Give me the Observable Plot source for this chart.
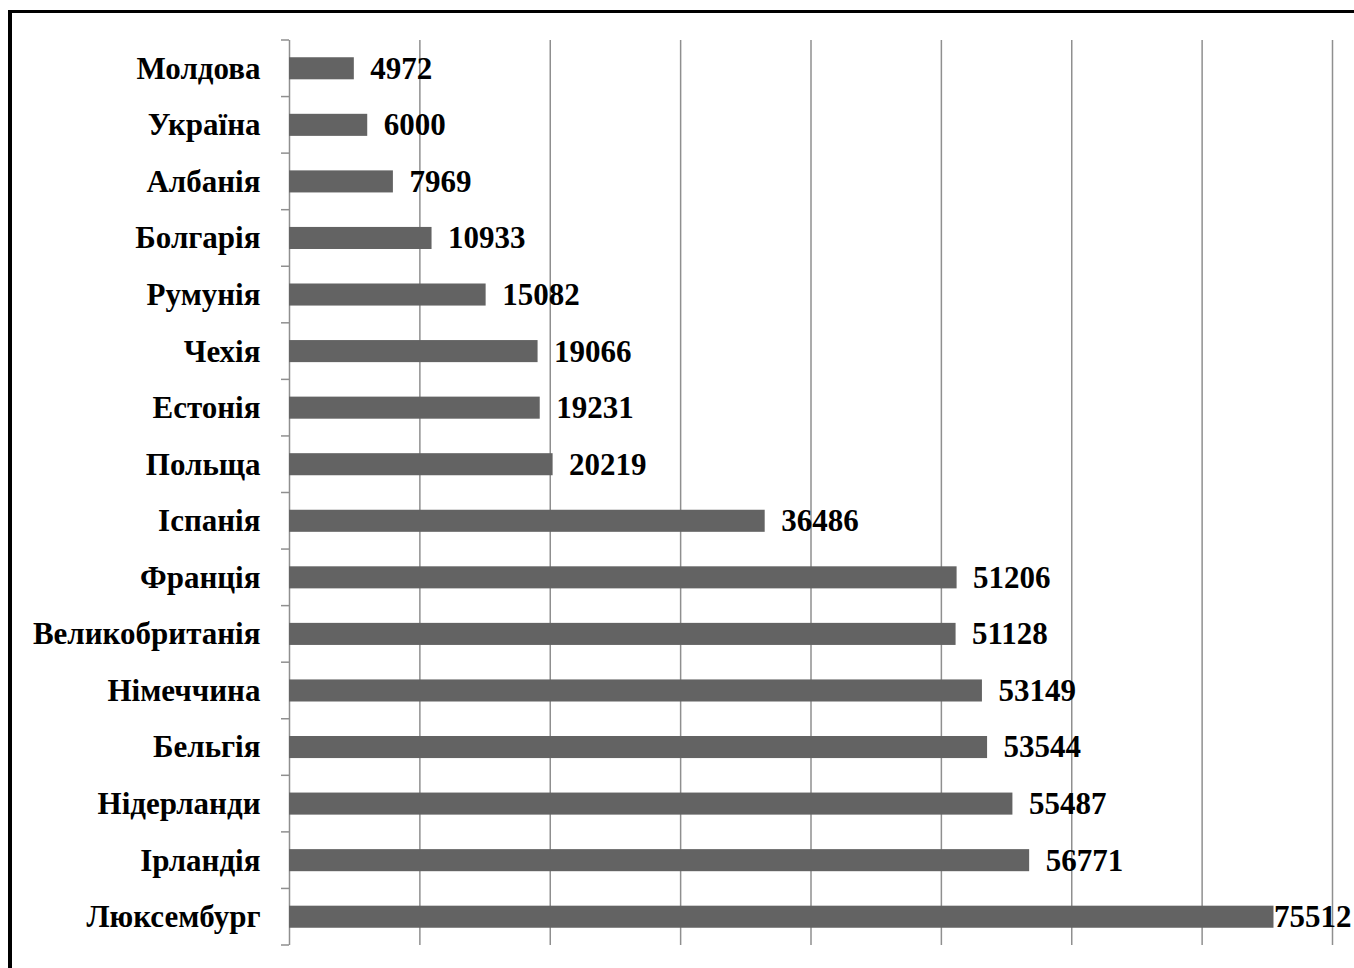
<!DOCTYPE html>
<html>
<head>
<meta charset="utf-8">
<script src="https://cdn.jsdelivr.net/npm/d3@7"></script>
<script src="https://cdn.jsdelivr.net/npm/@observablehq/plot@0.6"></script>
<style>
  html, body { margin: 0; padding: 0; background: #fff; overflow: hidden; }
  #wrap { position: relative; width: 1354px; height: 968px; overflow: hidden; }
  #frame { position: absolute; left: 8px; top: 10px; width: 3000px; height: 3000px;
           border-left: 4px solid #000; border-top: 3.5px solid #000; box-sizing: border-box; pointer-events: none; }
  #chart { position: absolute; left: 0; top: 0; }
</style>
</head>
<body>
<div id="wrap"><div id="chart"></div><div id="frame"></div></div>
<script>
const countries = ["Молдова","Україна","Албанія","Болгарія","Румунія","Чехія","Естонія","Польща","Іспанія","Франція","Великобританія","Німеччина","Бельгія","Нідерланди","Ірландія","Люксембург"];
const values = [4972, 6000, 7969, 10933, 15082, 19066, 19231, 20219, 36486, 51206, 51128, 53149, 53544, 55487, 56771, 75512];
const gridTicks = [10000, 20000, 30000, 40000, 50000, 60000, 70000, 80000];

const data = countries.map((c, i) => ({country: c, value: values[i]}));
const gridColor = "#8f8f8f";
const FS = 31;

function boundaryTicks(index, scales, channels, dims) {
  const y = scales.y;
  const bw = y.bandwidth();
  const step = y.step();
  const g = d3.create("svg:g");
  const x0 = scales.x(0);
  const ys = countries.map(c => y(c) + bw / 2 - step / 2);
  ys.push(y(countries[countries.length - 1]) + bw / 2 + step / 2);
  g.selectAll("line").data(ys).join("line")
    .attr("x1", x0 - 8).attr("x2", x0)
    .attr("y1", d => d).attr("y2", d => d)
    .attr("stroke", gridColor).attr("stroke-width", 1.5);
  return g.node();
}

const plot = Plot.plot({
  width: 1354,
  height: 968,
  marginLeft: 289,
  marginRight: 22,
  marginTop: 40,
  marginBottom: 23,
  style: {fontFamily: "'Liberation Serif', 'Times New Roman', serif", fontWeight: "bold", fontSize: FS + "px", color: "#000", background: "transparent"},
  x: {domain: [0, 80000], axis: null},
  y: {domain: countries, paddingInner: 0.61, paddingOuter: 0.305, round: false, axis: null},
  marks: [
    Plot.ruleX(gridTicks, {stroke: gridColor, strokeWidth: 1.5}),
    Plot.ruleX([0], {stroke: gridColor, strokeWidth: 1.5}),
    boundaryTicks,
    Plot.barX(data, {x: "value", y: "country", fill: "#636363"}),
    Plot.text(countries, {x: () => 0, y: d => d, text: d => d, textAnchor: "end", dx: -29, fill: "#000", fontSize: FS, fontWeight: "bold", fontFamily: "'Liberation Serif', serif"}),
    Plot.text(data.filter(d => d.value < 70000), {x: "value", y: "country", text: d => String(d.value), textAnchor: "start", dx: 16, fill: "#000", fontSize: FS, fontWeight: "bold", fontFamily: "'Liberation Serif', serif"}),
    Plot.text(data.filter(d => d.value >= 70000), {x: "value", y: "country", text: d => String(d.value), textAnchor: "start", dx: 0, fill: "#000", fontSize: FS, fontWeight: "bold", fontFamily: "'Liberation Serif', serif"})
  ]
});
document.getElementById("chart").appendChild(plot);
</script>
</body>
</html>
